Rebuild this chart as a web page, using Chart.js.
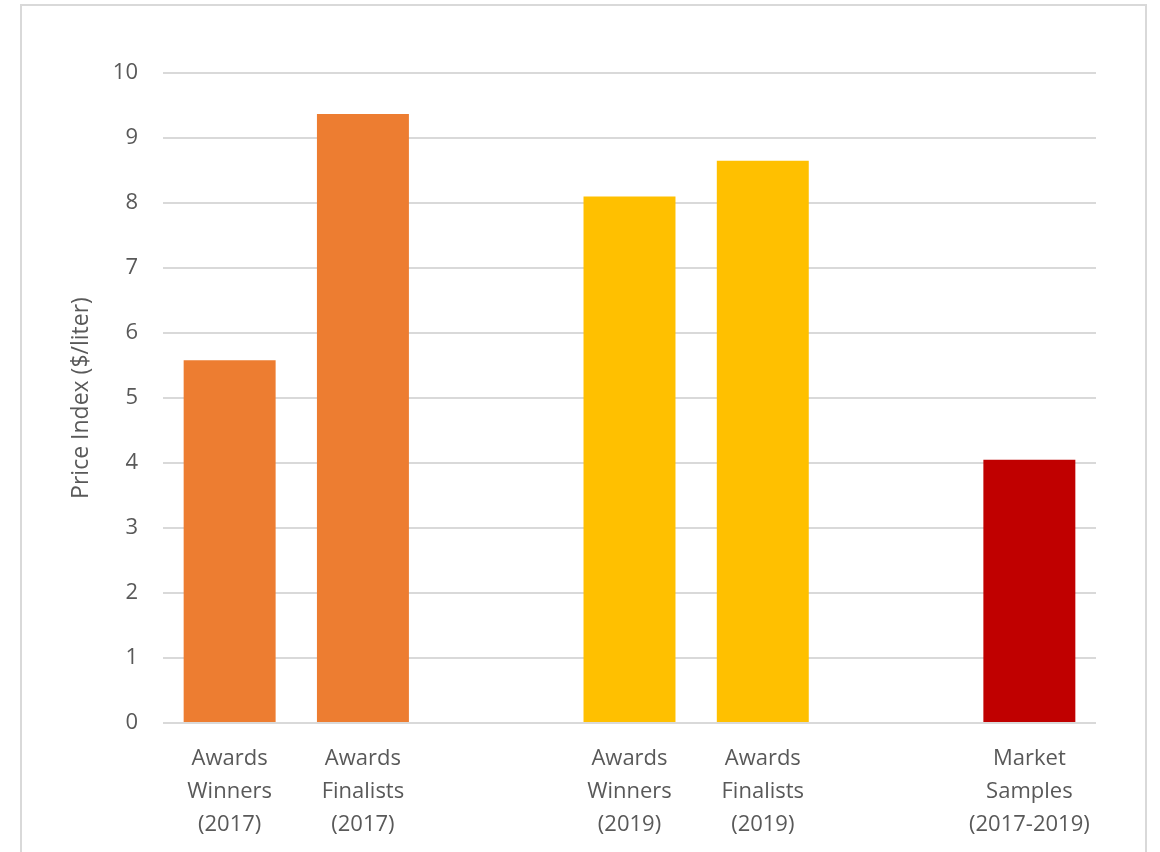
<!DOCTYPE html>
<html>
<head>
<meta charset="utf-8">
<script src="https://cdn.jsdelivr.net/npm/chart.js@4/dist/chart.umd.min.js"></script>
<style>
  html, body { margin: 0; padding: 0; background: #fff; }
  #wrap { position: relative; width: 1160px; height: 852px; overflow: hidden; }
  #frame { position: absolute; left: 20px; top: 4px; width: 1127px; height: 900px; border: 2px solid #d9d9d9; box-sizing: border-box; }
  canvas { position: absolute; left: 0; top: 0; }
</style>
</head>
<body>
<div id="wrap">
  <div id="frame"></div>
  <canvas id="priceChart" width="1160" height="852"></canvas>
</div>
<script>
// categories (empty slots are the gaps between groups)
var categories = [
  ['Awards', 'Winners', '(2017)'],
  ['Awards', 'Finalists', '(2017)'],
  '',
  ['Awards', 'Winners', '(2019)'],
  ['Awards', 'Finalists', '(2019)'],
  '',
  ['Market', 'Samples', '(2017-2019)']
];
// price index, $/liter
var priceValues = [5.58, 9.37, null, 8.1, 8.65, null, 4.05];
var barColors = ['#ED7D31', '#ED7D31', '#ffffff', '#FFC000', '#FFC000', '#ffffff', '#C00000'];
var yTicks = [0, 1, 2, 3, 4, 5, 6, 7, 8, 9, 10];

var textColor = '#595959';
var fontFamily = '"Open Sans", Lato, sans-serif';

var ctx = document.getElementById('priceChart').getContext('2d');
var priceChart = new Chart(ctx, {
  type: 'bar',
  data: {
    labels: categories,
    datasets: [{
      label: 'Price Index',
      data: priceValues,
      backgroundColor: barColors,
      borderWidth: 0,
      categoryPercentage: 1,
      barPercentage: 0.69
    }]
  },
  options: {
    responsive: false,
    animation: false,
    layout: { padding: { left: 68, right: 64, top: 73, bottom: 0 } },
    plugins: {
      legend: { display: false },
      tooltip: { enabled: false }
    },
    scales: {
      x: {
        grid: { display: false },
        border: { display: false },
        ticks: {
          color: textColor,
          font: { family: fontFamily, size: 22, lineHeight: 1.5 },
          padding: 11,
          maxRotation: 0,
          autoSkip: false
        },
        afterFit: function (scale) { scale.height = 129; }
      },
      y: {
        min: 0,
        max: 10,
        afterBuildTicks: function (scale) {
          scale.ticks = yTicks.map(function (v) { return { value: v }; });
        },
        grid: { color: '#d9d9d9', lineWidth: 2, drawTicks: false },
        border: { display: false },
        ticks: {
          color: textColor,
          font: { family: fontFamily, size: 22 },
          padding: 25
        },
        title: {
          display: true,
          text: 'Price Index ($/liter)',
          color: textColor,
          font: { family: fontFamily, size: 23 },
          padding: { top: 0, bottom: 0 }
        },
        afterFit: function (scale) { scale.width = 95; }
      }
    }
  }
});
</script>
</body>
</html>
